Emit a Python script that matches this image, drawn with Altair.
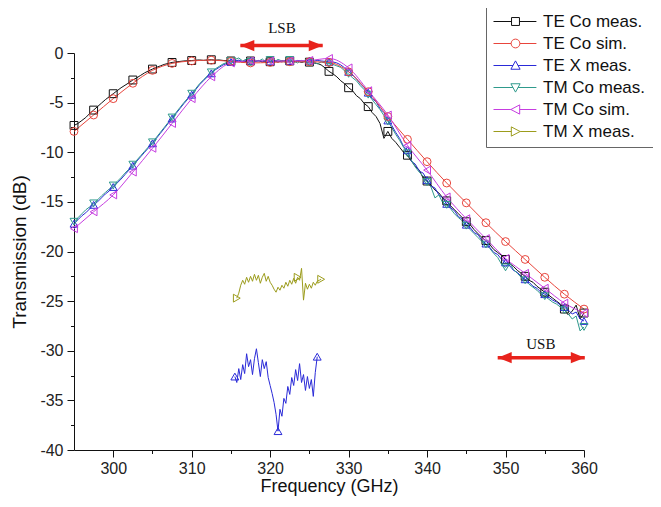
import altair as alt
import numpy as np
import pandas as pd

SERIES = ["TE Co meas.", "TE Co sim.", "TE X meas.", "TM Co meas.", "TM Co sim.", "TM X meas."]
COLORS = ["#111111", "#e8453c", "#2a2ad8", "#2f9a8c", "#c63de0", "#9c9c1c"]
SHAPES = ["square", "circle", "triangle-up", "triangle-down", "triangle-left", "triangle-right"]
LEGEND_SYMBOLS = [
    "M-1,0H0.64M1.36,0H2.9M0.64,-0.36H1.36V0.36H0.64Z",
    "M-1,0H0.6M1.4,0H2.9M1.4,0A0.4,0.4 0 1,1 0.6,0A0.4,0.4 0 1,1 1.4,0Z",
    "M-1,0H0.77M1.23,0H2.9M1,-0.42L1.42,0.34L0.58,0.34Z",
    "M-1,0H0.77M1.23,0H2.9M1,0.42L1.42,-0.34L0.58,-0.34Z",
    "M-1,0H0.58M1.38,0H2.9M0.58,0L1.38,-0.42L1.38,0.42Z",
    "M-1,0H0.62M1.42,0H2.9M1.42,0L0.62,-0.42L0.62,0.42Z",
]

# measured band curves, sampled every 0.5 GHz from 295 to 360 GHz
MEAS_F = [round(v, 2) for v in np.arange(295, 360.001, 0.5)]
TE_CO_MEAS = [
    -7.3, -7.1, -6.8, -6.5, -6.1, -5.75, -5.4, -5.05, -4.7, -4.4,
    -4.1, -3.8, -3.5, -3.25, -3.0, -2.72, -2.5, -2.25, -2.0, -1.8,
    -1.62, -1.45, -1.3, -1.15, -1.05, -0.95, -0.9, -0.85, -0.8, -0.78,
    -0.76, -0.72, -0.7, -0.74, -0.7, -0.68, -0.72, -0.7, -0.75, -0.78,
    -0.8, -0.85, -0.82, -0.9, -0.85, -0.8, -0.86, -0.78, -0.9, -0.82,
    -0.88, -0.8, -0.92, -0.78, -0.85, -0.8, -0.9, -0.82, -0.95, -0.85,
    -0.92, -1.0, -1.05, -1.2, -1.5, -1.85, -2.1, -2.4, -2.8, -3.1,
    -3.5, -3.8, -4.3, -4.6, -5.1, -5.4, -6.0, -6.4, -7.1, -8.6,
    -7.9, -8.6, -9.0, -9.5, -10.0, -10.3, -10.9, -11.4, -11.8, -12.6,
    -12.9, -13.3, -13.8, -14.1, -14.6, -14.9, -15.4, -15.8, -16.2, -16.6,
    -17.0, -17.3, -17.8, -18.2, -18.6, -18.9, -19.3, -19.8, -20.1, -20.4,
    -20.8, -21.2, -21.5, -21.9, -22.2, -22.5, -22.9, -23.1, -23.5, -23.8,
    -24.1, -24.4, -24.7, -25.0, -25.3, -25.8, -26.4, -26.0, -25.4, -26.8,
    -26.2,
]
TE_X_MEAS_BAND = [
    -17.2, -16.8, -16.4, -16.1, -15.7, -15.3, -15.0, -14.6, -14.2, -13.9,
    -13.5, -13.1, -12.7, -12.25, -11.8, -11.35, -10.9, -10.45, -10.0, -9.55,
    -9.1, -8.6, -8.1, -7.6, -7.1, -6.6, -6.1, -5.6, -5.1, -4.65,
    -4.2, -3.7, -3.2, -2.8, -2.4, -2.05, -1.7, -1.45, -1.2, -1.05,
    -0.9, -0.8, -0.72, -0.85, -0.7, -0.78, -0.9, -0.75, -0.82, -0.7,
    -0.85, -0.75, -0.8, -0.9, -0.72, -0.8, -0.88, -0.75, -0.8, -0.85,
    -0.78, -0.82, -0.75, -0.8, -0.85, -0.9, -0.9, -1.0, -1.2, -1.5,
    -1.9, -2.2, -2.6, -3.1, -3.5, -4.0, -4.6, -4.9, -5.6, -6.0,
    -6.8, -7.3, -8.0, -8.6, -9.4, -9.8, -10.9, -11.2, -11.9, -12.1,
    -12.8, -13.4, -13.6, -14.3, -14.6, -15.2, -15.6, -15.9, -16.5, -16.7,
    -17.3, -17.6, -18.1, -18.3, -18.9, -19.2, -19.6, -20.1, -20.3, -20.8,
    -21.1, -21.4, -21.9, -22.1, -22.5, -22.8, -23.1, -23.5, -23.7, -24.1,
    -24.3, -24.6, -24.9, -25.1, -25.4, -25.6, -25.9, -26.3, -26.1, -26.8,
    -27.0,
]
TM_CO_MEAS = [
    -17.0, -16.6, -16.2, -15.8, -15.5, -15.15, -14.8, -14.4, -14.05, -13.7,
    -13.35, -12.95, -12.55, -12.1, -11.7, -11.25, -10.8, -10.35, -9.9, -9.45,
    -9.0, -8.5, -8.0, -7.5, -7.0, -6.5, -6.0, -5.5, -5.0, -4.55,
    -4.1, -3.6, -3.1, -2.7, -2.3, -1.95, -1.6, -1.35, -1.1, -0.95,
    -0.8, -0.65, -0.5, -0.8, -0.6, -0.9, -0.7, -0.85, -0.6, -0.95,
    -0.7, -0.9, -0.65, -0.8, -0.95, -0.7, -0.85, -1.0, -0.75, -0.9,
    -1.0, -0.85, -1.1, -0.9, -1.0, -1.05, -1.15, -1.3, -1.45, -1.8,
    -2.1, -2.5, -2.8, -3.3, -3.7, -4.2, -4.7, -5.2, -5.7, -6.3,
    -6.9, -7.5, -8.2, -8.8, -9.5, -10.1, -10.8, -11.5, -12.0, -12.4,
    -13.0, -13.5, -14.6, -14.3, -15.1, -15.3, -15.7, -16.2, -16.6, -16.9,
    -17.4, -17.8, -18.2, -18.6, -19.0, -19.3, -19.7, -20.2, -20.6, -21.3,
    -21.6, -21.1, -21.8, -22.2, -22.6, -22.9, -23.3, -23.6, -23.9, -24.3,
    -24.5, -24.8, -25.1, -25.3, -25.6, -25.9, -26.3, -26.8, -26.5, -28.0,
    -27.6,
]

# simulations, every 2.5 GHz
SIM_F = [round(v, 2) for v in np.arange(295, 360.001, 2.5)]
TE_CO_SIM = [-7.9, -6.25, -4.6, -3.05, -1.75, -1.05, -0.8, -0.72, -0.85, -1.0,
             -0.95, -0.88, -0.88, -0.95, -1.9, -3.9, -6.4, -8.7, -10.95, -13.1,
             -15.1, -17.1, -19.0, -20.8, -22.6, -24.3, -25.8]
TM_CO_SIM = [-17.7, -16.0, -14.3, -12.0, -9.6, -7.1, -4.6, -2.4, -1.0, -0.8,
             -0.8, -0.8, -0.75, -0.55, -1.5, -3.8, -6.25, -9.3, -11.8, -14.5,
             -16.7, -18.7, -20.7, -22.2, -23.7, -25.2, -26.2]

# cross-polar measurements
TE_X_CROSS_F = [round(v, 2) for v in np.arange(315.5, 326.001, 0.25)]
TE_X_CROSS = [-32.6, -33.2,
              -31.8, -32.9, -31.4, -32.3,
              -30.3, -31.6, -30.9, -32.4,
              -30.8, -29.8, -31.2, -32.6,
              -30.9, -31.8, -31.1, -32.7,
              -33.5, -34.3, -35.2, -36.4,
              -38.1, -35.9, -36.6, -34.8,
              -35.3, -33.6, -34.4, -32.7,
              -33.5, -31.9, -33.0, -31.3,
              -33.2, -32.4, -34.0, -32.6,
              -33.8, -32.9, -34.6, -32.2,
              -30.6]
TM_X_CROSS_F = [round(v, 2) for v in np.arange(315.75, 326.501, 0.25)]
TM_X_CROSS = [-24.7,
              -24.2, -23.4, -22.9, -23.3,
              -22.6, -23.1, -22.5, -23.0,
              -22.3, -22.9, -22.4, -23.2,
              -22.6, -22.2, -23.0, -22.5,
              -23.1, -23.4, -23.8, -24.1,
              -23.6, -23.9, -23.4, -23.7,
              -23.1, -23.5, -22.9, -23.3,
              -22.7, -23.2, -22.6, -22.9,
              -21.7, -24.9, -23.2, -23.8,
              -23.3, -23.7, -23.1, -23.4,
              -23.0, -22.9, -22.8]
TE_X_CROSS_MARKS = [315.5, 321.0, 326.0]
TM_X_CROSS_MARKS = [315.75, 323.5, 326.5]

# band annotations
BAND_NAMES = ["LSB", "USB"]
BAND_START = [316.2, 349.0]
BAND_END = [326.7, 360.1]
BAND_ARROW_DB = [0.75, -30.7]
BAND_LABEL_F = [321.5, 354.5]
BAND_LABEL_DB = [2.5, -29.3]

X_TICKS = [300, 305, 310, 315, 320, 325, 330, 335, 340, 345, 350, 355, 360]
Y_TICKS = [-40, -37.5, -35, -32.5, -30, -27.5, -25, -22.5, -20, -17.5, -15,
           -12.5, -10, -7.5, -5, -2.5, 0]

# ---------- tables ----------
meas_rows = []
for name, vals in [("TE Co meas.", TE_CO_MEAS), ("TE X meas.", TE_X_MEAS_BAND), ("TM Co meas.", TM_CO_MEAS)]:
    for f, d in zip(MEAS_F, vals):
        meas_rows.append({"f": f, "db": d, "series": name, "seg": name + " band"})
for f, d in zip(TE_X_CROSS_F, TE_X_CROSS):
    meas_rows.append({"f": f, "db": d, "series": "TE X meas.", "seg": "TE X cross"})
for f, d in zip(TM_X_CROSS_F, TM_X_CROSS):
    meas_rows.append({"f": f, "db": d, "series": "TM X meas.", "seg": "TM X cross"})
meas_df = pd.DataFrame(meas_rows)

sim_rows = []
for name, vals in [("TE Co sim.", TE_CO_SIM), ("TM Co sim.", TM_CO_SIM)]:
    for f, d in zip(SIM_F, vals):
        sim_rows.append({"f": f, "db": d, "series": name, "seg": name})
sim_df = pd.DataFrame(sim_rows)

band_marks = meas_df[(meas_df["seg"].str.endswith("band")) & ((meas_df["f"] * 2) % 5 == 0)]
cross_marks = pd.concat([
    meas_df[(meas_df["seg"] == "TE X cross") & (meas_df["f"].isin(TE_X_CROSS_MARKS))],
    meas_df[(meas_df["seg"] == "TM X cross") & (meas_df["f"].isin(TM_X_CROSS_MARKS))],
])
marker_df = pd.concat([band_marks, sim_df, cross_marks])

band_df = pd.DataFrame({"name": BAND_NAMES, "f": BAND_START, "f2": BAND_END,
                        "db": BAND_ARROW_DB})
band_label_df = pd.DataFrame({"name": BAND_NAMES, "f": BAND_LABEL_F, "db": BAND_LABEL_DB})

# ---------- encodings ----------
AX_FONT = "Liberation Sans"
x_enc = alt.X("f:Q", title="Frequency (GHz)",
              scale=alt.Scale(domain=[295, 360], nice=False, zero=False),
              axis=alt.Axis(values=X_TICKS, grid=False,
                            labelExpr="datum.value % 10 === 0 ? '' + datum.value : ''",
                            tickSize={"condition": {"test": "datum.value % 10 === 0", "value": 7}, "value": 3.5},
                            labelPadding=3, titlePadding=1, titleFontSize=18, labelFlush=False))
y_enc = alt.Y("db:Q", title="Transmission (dB)",
              scale=alt.Scale(domain=[-40, 0], nice=False, zero=False),
              axis=alt.Axis(values=Y_TICKS, grid=False,
                            labelExpr="datum.value % 5 === 0 ? '' + datum.value : ''",
                            tickSize={"condition": {"test": "datum.value % 5 === 0", "value": 7}, "value": 3.5},
                            labelPadding=4, titlePadding=10, titleFontSize=19, labelFlush=False))
color_scale = alt.Scale(domain=SERIES, range=COLORS)

meas_lines = alt.Chart(meas_df).mark_line(strokeWidth=1).encode(
    x=x_enc, y=y_enc,
    color=alt.Color("series:N", scale=color_scale, legend=None),
    detail="seg:N",
)
sim_lines = alt.Chart(sim_df).mark_line(strokeWidth=1, interpolate="monotone").encode(
    x=x_enc, y=y_enc,
    color=alt.Color("series:N", scale=color_scale, legend=None),
    detail="seg:N",
)
markers = alt.Chart(marker_df).mark_point(filled=False, size=62, strokeWidth=1, opacity=1).encode(
    x=x_enc, y=y_enc,
    color=alt.Color("series:N", scale=color_scale, legend=None),
    shape=alt.Shape("series:N", scale=alt.Scale(domain=SERIES, range=SHAPES), legend=None),
)
legend_layer = alt.Chart(marker_df).transform_filter("false").mark_point(
    filled=False, strokeWidth=1, opacity=1).encode(
    x=x_enc, y=y_enc,
    color=alt.Color("series:N", scale=color_scale,
                    legend=alt.Legend(orient="none", legendX=412, legendY=-50, title=None,
                                      symbolSize=484, symbolStrokeWidth=1,
                                      symbolFillColor="transparent",
                                      labelFont=AX_FONT, labelFontSize=17, labelColor="#111",
                                      labelOffset=27, padding=7, rowPadding=2,
                                      strokeColor="#666", fillColor="white")),
    shape=alt.Shape("series:N", scale=alt.Scale(domain=SERIES, range=LEGEND_SYMBOLS),
                    legend=alt.Legend(orient="none", legendX=412, legendY=-50, title=None)),
)

RED = "#e8231c"
arrows = alt.Chart(band_df).mark_rule(color=RED, strokeWidth=3.5).encode(
    x=x_enc, x2="f2:Q", y=y_enc)
heads_left = alt.Chart(band_df).mark_point(
    shape="M0,0L2,-0.8L2,0.8Z", filled=True, color=RED, size=196, opacity=1, strokeWidth=0
).encode(x=x_enc, y=y_enc)
heads_right = alt.Chart(band_df).mark_point(
    shape="M0,0L-2,-0.8L-2,0.8Z", filled=True, color=RED, size=196, opacity=1, strokeWidth=0
).encode(x=alt.X("f2:Q", scale=alt.Scale(domain=[295, 360], nice=False, zero=False)), y=y_enc)
band_text = alt.Chart(band_label_df).mark_text(
    font="Liberation Serif", fontSize=15, color="#111", baseline="middle", align="center"
).encode(x=x_enc, y=y_enc, text="name:N")

chart = alt.layer(
    meas_lines, sim_lines, markers, legend_layer, arrows, heads_left, heads_right, band_text
).resolve_scale(
    color="independent", shape="independent"
).properties(
    width=510, height=397,
    padding={"left": 66, "top": 45, "right": 69, "bottom": 49},
    autosize=alt.AutoSizeParams(type="none"),
).configure_view(stroke=None).configure_axis(
    domainColor="#111", tickColor="#111", labelColor="#222", titleColor="#111",
    labelFont=AX_FONT, labelFontSize=16, titleFont=AX_FONT,
    titleFontWeight="normal", domainWidth=1, tickWidth=1,
)

chart.save("out.html", embed_options={"renderer": "svg", "actions": False})
